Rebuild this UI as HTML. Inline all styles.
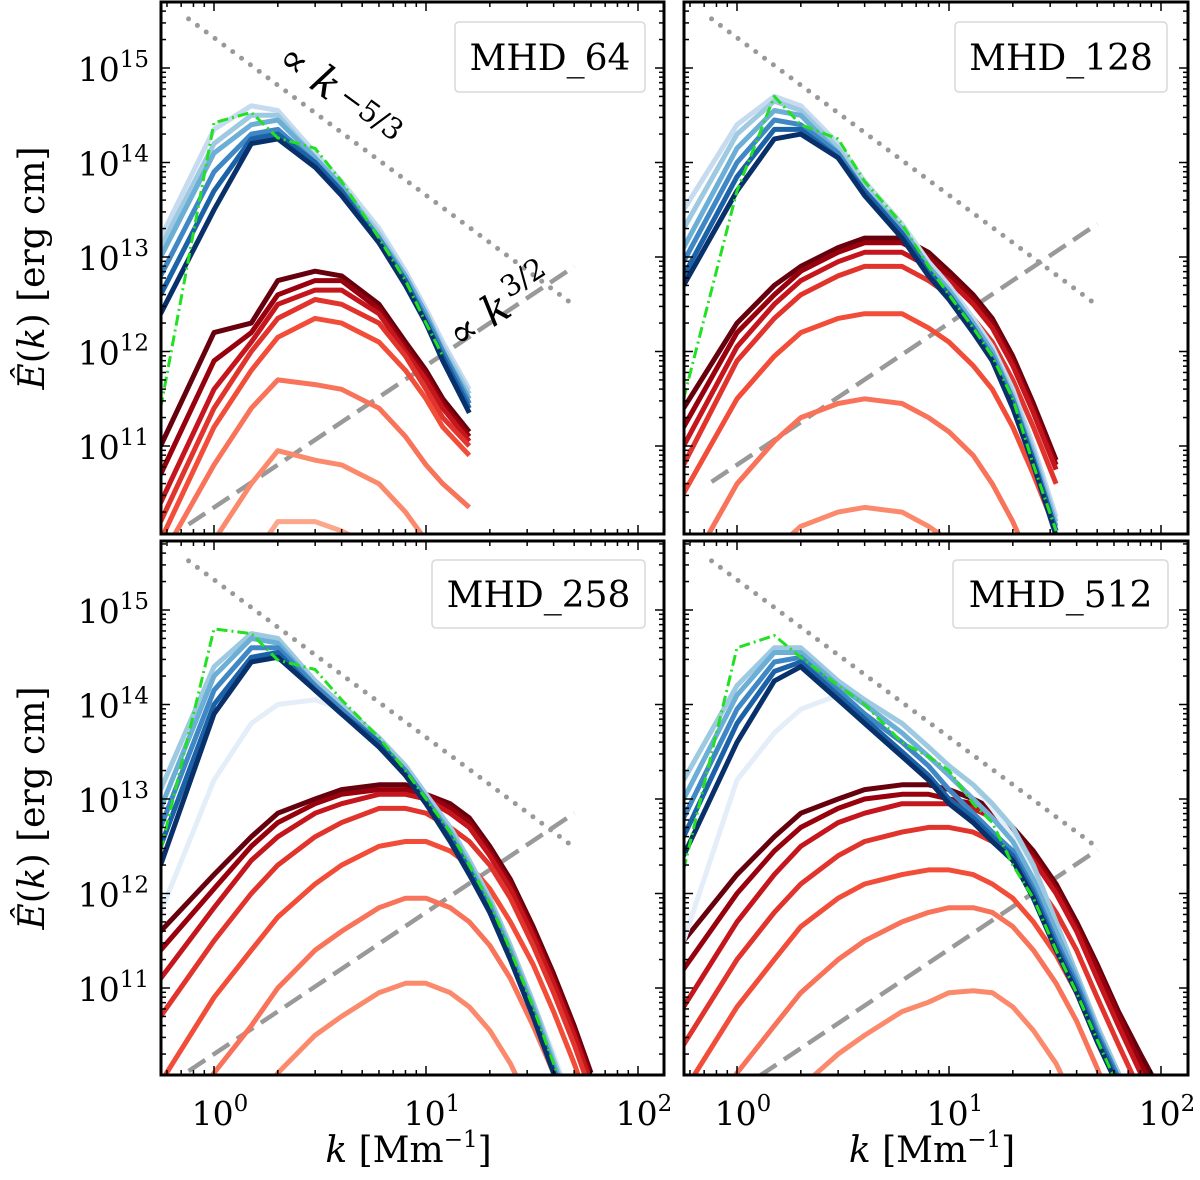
<!DOCTYPE html>
<html><head><meta charset="utf-8">
<style>
html,body{margin:0;padding:0;background:#fff;width:1200px;height:1180px;overflow:hidden;}
svg{display:block;font-family:"DejaVu Serif","Liberation Serif",serif;}
</style></head>
<body>
<svg id="chart" width="1200" height="1180" viewBox="0 0 1200 1180" xmlns="http://www.w3.org/2000/svg"></svg>
<script>
// ---------- DATA ----------
const kTL=[0.56,1,1.5,2,3,4,6,8,10,12,16];
const blueTL=[
[13.2,14.35,14.6,14.55,14.1,13.8,13.3,12.85,12.45,12.1,11.6],
[13.1,14.2,14.5,14.5,14.05,13.75,13.25,12.8,12.4,12.05,11.55],
[13.0,14.1,14.4,14.45,14.05,13.75,13.2,12.8,12.4,12.0,11.5],
[12.8,13.9,14.3,14.35,14.0,13.7,13.2,12.75,12.35,12.0,11.45],
[12.6,13.7,14.25,14.3,14.0,13.7,13.15,12.75,12.3,11.95,11.4],
[12.4,13.5,14.2,14.25,13.95,13.65,13.15,12.7,12.3,11.9,11.35]];
const greenTL=[11.4,14.42,14.53,14.26,14.15,13.8,13.2,12.75,12.3,11.95,null];
const redTL=[
[11.0,12.2,12.3,12.75,12.85,12.8,12.5,12.1,11.8,11.5,11.15],
[10.7,11.9,12.2,12.6,12.75,12.75,12.45,12.05,11.75,11.45,11.1],
[10.4,11.6,12.1,12.5,12.65,12.65,12.4,12.0,11.7,11.4,11.05],
[10.2,11.4,12.0,12.35,12.55,12.5,12.3,11.95,11.6,11.3,11.0],
[10.0,11.2,11.8,12.15,12.35,12.3,12.1,11.8,11.5,11.2,10.9],
[9.8,10.8,11.4,11.7,11.65,11.6,11.4,11.1,10.8,10.6,10.35],
[9.2,10.0,10.6,10.95,10.85,10.8,10.6,10.3,10.0,9.8,9.6],
[8.5,9.3,9.8,10.2,10.2,10.1,9.9,9.6,9.3,9.0,8.7]];

const kTR=[0.56,1,1.5,2,3,4,6,8,10,13,16,20,25,32];
const blueTR=[
[13.5,14.4,14.7,14.6,14.2,13.8,13.35,12.95,12.7,12.35,12.05,11.6,11.0,10.25],
[13.3,14.3,14.65,14.55,14.15,13.75,13.3,12.9,12.65,12.3,12.0,11.55,10.95,10.2],
[13.1,14.15,14.55,14.5,14.1,13.7,13.3,12.9,12.65,12.3,12.0,11.5,10.9,10.15],
[12.95,14.0,14.45,14.4,14.1,13.7,13.25,12.85,12.6,12.25,11.95,11.5,10.85,10.1],
[12.8,13.85,14.35,14.35,14.05,13.7,13.25,12.85,12.6,12.25,11.9,11.45,10.85,10.1],
[12.7,13.7,14.25,14.3,14.05,13.65,13.2,12.8,12.55,12.2,11.9,11.4,10.8,10.05]];
const greenTR=[11.5,13.7,14.7,14.4,14.25,13.8,13.35,12.9,12.6,12.25,11.95,11.5,10.8,10.1];
const redTR=[
[11.4,12.3,12.7,12.9,13.1,13.2,13.2,13.05,12.85,12.6,12.35,11.95,11.45,10.85],
[11.2,12.2,12.6,12.85,13.05,13.15,13.15,13.0,12.8,12.55,12.3,11.9,11.4,10.8],
[11.0,12.05,12.5,12.75,12.95,13.05,13.05,12.9,12.75,12.5,12.25,11.85,11.35,10.75],
[10.8,11.9,12.35,12.6,12.8,12.9,12.9,12.75,12.6,12.35,12.1,11.7,11.2,10.6],
[10.5,11.5,11.95,12.2,12.35,12.4,12.4,12.25,12.1,11.85,11.6,11.2,10.7,10.1],
[9.6,10.6,11.05,11.3,11.45,11.5,11.45,11.3,11.15,10.9,10.6,10.2,9.7,9.1],
[8.5,9.5,9.9,10.15,10.3,10.35,10.3,10.15,10.0,9.7,9.4,9.0,8.5,7.9]];

const kBL=[0.56,1,1.5,2,3,4,6,8,10,13,16,20,25,32,40,50,60];
const blueBL=[
[11.8,13.2,13.8,14.0,14.05,13.95,13.65,13.35,13.05,12.7,12.35,11.95,11.45,10.85,10.3,9.7,9.2],
[13.1,14.4,14.75,14.7,14.25,14.0,13.65,13.35,13.05,12.7,12.35,11.95,11.45,10.85,10.25,9.65,9.15],
[12.9,14.3,14.7,14.65,14.2,13.95,13.6,13.3,13.0,12.65,12.3,11.9,11.4,10.8,10.2,9.6,9.1],
[12.7,14.15,14.6,14.6,14.2,13.95,13.6,13.3,13.0,12.6,12.25,11.85,11.35,10.75,10.15,9.55,9.05],
[12.5,14.0,14.5,14.55,14.15,13.9,13.6,13.25,12.95,12.6,12.25,11.8,11.3,10.7,10.1,9.5,9.0],
[12.3,13.9,14.45,14.5,14.15,13.9,13.55,13.25,12.95,12.55,12.2,11.8,11.3,10.7,10.1,9.5,9.0]];
const greenBL=[12.45,14.8,14.75,14.47,14.37,14.05,13.65,13.3,13.0,12.65,12.3,11.9,11.4,10.8,10.2,9.6,9.1];
const redBL=[
[11.6,12.2,12.6,12.85,13.0,13.1,13.15,13.15,13.05,12.95,12.8,12.5,12.15,11.65,11.15,10.6,10.1],
[11.4,12.05,12.5,12.75,12.95,13.05,13.1,13.1,13.05,12.9,12.75,12.45,12.1,11.6,11.1,10.55,10.05],
[11.1,11.85,12.35,12.6,12.85,12.95,13.05,13.05,13.0,12.85,12.7,12.4,12.05,11.55,11.05,10.5,10.0],
[10.7,11.5,12.0,12.3,12.6,12.75,12.9,12.9,12.85,12.7,12.55,12.3,11.95,11.45,10.95,10.4,9.9],
[10.0,10.9,11.4,11.75,12.1,12.3,12.5,12.55,12.55,12.45,12.3,12.05,11.7,11.25,10.75,10.2,9.7],
[9.3,10.1,10.6,11.0,11.4,11.6,11.85,11.95,11.95,11.85,11.7,11.45,11.1,10.6,10.1,9.5,9.0],
[8.4,9.2,9.7,10.1,10.5,10.7,10.95,11.05,11.05,10.95,10.8,10.55,10.2,9.7,9.1,8.5,8.0]];

const kBR=[0.56,1,1.5,2,3,4,6,8,10,13,16,20,25,32,40,50,63,80,100];
const blueBR=[
[11.5,13.2,13.7,13.95,14.1,14.0,13.8,13.55,13.35,13.15,12.9,12.6,12.2,11.65,11.1,10.55,10.05,9.5,8.95],
[13.2,14.2,14.6,14.6,14.25,14.05,13.8,13.55,13.35,13.15,12.95,12.7,12.3,11.7,11.15,10.6,10.1,9.5,8.95],
[13.0,14.1,14.55,14.55,14.2,14.0,13.7,13.45,13.25,13.0,12.8,12.55,12.15,11.6,11.1,10.55,10.05,9.5,8.95],
[12.8,13.95,14.45,14.5,14.15,13.9,13.6,13.35,13.1,12.85,12.65,12.45,12.05,11.5,11.05,10.52,10.05,9.5,8.95],
[12.6,13.8,14.35,14.45,14.1,13.85,13.5,13.25,13.0,12.8,12.6,12.4,12.0,11.45,11.0,10.48,10.0,9.45,8.9],
[12.4,13.6,14.25,14.4,14.05,13.8,13.45,13.2,12.95,12.75,12.55,12.35,11.95,11.4,10.95,10.43,9.95,9.4,8.9]];
const greenBR=[12.25,14.6,14.73,14.5,14.2,14.0,13.6,13.45,13.3,12.95,12.75,12.3,11.95,11.4,10.95,10.45,9.95,9.4,8.9];
const redBR=[
[11.5,12.2,12.6,12.85,13.0,13.1,13.15,13.15,13.1,13.0,12.9,12.7,12.45,12.1,11.7,11.25,10.75,10.3,9.9],
[11.2,12.0,12.45,12.7,12.9,13.0,13.05,13.05,13.0,12.95,12.85,12.65,12.4,12.05,11.65,11.2,10.7,10.2,9.8],
[10.8,11.7,12.2,12.5,12.75,12.85,12.95,12.95,12.95,12.9,12.8,12.6,12.35,12.0,11.6,11.1,10.6,10.1,9.7],
[10.4,11.3,11.8,12.1,12.4,12.55,12.65,12.7,12.7,12.65,12.55,12.4,12.15,11.8,11.4,10.9,10.4,9.9,9.4],
[9.9,10.8,11.3,11.65,11.95,12.1,12.2,12.25,12.25,12.2,12.1,11.95,11.7,11.35,10.95,10.45,9.95,9.4,8.9],
[9.2,10.1,10.6,10.95,11.3,11.5,11.7,11.8,11.85,11.85,11.8,11.65,11.4,11.05,10.65,10.15,9.6,9.05,8.5],
[8.2,9.1,9.6,9.95,10.3,10.5,10.75,10.85,10.95,10.97,10.95,10.8,10.55,10.2,9.75,9.25,8.7,8.1,7.5]];

const panelNames=["MHD_64","MHD_128","MHD_258","MHD_512"];
const yTickExps=[11,12,13,14,15];
const xTickExps=[0,1,2];
const refSlopeKolm=-5/3, refSlopeB=1.5;
const refAmpKolm=[15.32,15.32,15.32,15.32];
const refAmpB=[10.35,10.80,10.30,9.91];

// ---------- DRAW ----------
const NS="http://www.w3.org/2000/svg";
const svg=document.getElementById('chart');
function mk(tag,attrs,parent){const e=document.createElementNS(NS,tag);for(const a in attrs)e.setAttribute(a,attrs[a]);(parent||svg).appendChild(e);return e;}

const panels=[
 {L:161,R:664,T:2,B:534,x0:214,y15:68,k:kTL,blue:blueTL,green:greenTL,red:redTL,leg:[455,22,190,70],ylab:true,xlab:false},
 {L:684,R:1188,T:2,B:534,x0:737,y15:68,k:kTR,blue:blueTR,green:greenTR,red:redTR,leg:[955,22,212,70],ylab:false,xlab:false},
 {L:161,R:664,T:541,B:1075,x0:214,y15:610,k:kBL,blue:blueBL,green:greenBL,red:redBL,leg:[432,560,213,68],ylab:true,xlab:true},
 {L:684,R:1188,T:541,B:1075,x0:737,y15:610,k:kBR,blue:blueBR,green:greenBR,red:redBR,leg:[953,560,215,68],ylab:false,xlab:true}];
const DX=212, DY=94.5;
const bluesC=["#c6dbef","#9ecae1","#6baed6","#3f88c5","#1c62a8","#08306b"];
const bluesBL0="#e3eef9";
const redsC=["#67000d","#99000d","#c4161c","#e0342c","#f14d38","#f8735a","#fb8a6d","#fca68b"];

panels.forEach((p,pi)=>{
  const sx=lk=>p.x0+lk*DX;
  const sy=le=>p.y15-(le-15)*DY;
  const g=mk('g',{});
  
  
  const cid='clip'+pi;
  const cp=mk('clipPath',{id:cid},g);mk('rect',{x:p.L,y:p.T,width:p.R-p.L,height:p.B-p.T},cp);
  const plot=mk('g',{'clip-path':'url(#'+cid+')'},g);
  function line(vals,color,w,name,dash){
    let d='';let pen=false;
    vals.forEach((v,i)=>{if(v==null){pen=false;return;}d+=(pen?'L':'M')+sx(Math.log10(p.k[i])).toFixed(1)+','+sy(v).toFixed(1);pen=true;});
    const e=mk('path',{d:d,fill:'none',stroke:color,'stroke-width':w,'stroke-linejoin':'round'},plot);
    if(dash)e.setAttribute('stroke-dasharray',dash);
    
    
  }
  const lkA=-0.12,lkB=1.70;
  const kol=mk('line',{x1:sx(lkA),y1:sy(refAmpKolm[pi]+refSlopeKolm*lkA),x2:sx(lkB),y2:sy(refAmpKolm[pi]+refSlopeKolm*lkB),stroke:'#999','stroke-width':5,'stroke-dasharray':'0 11','stroke-linecap':'round'},plot);
  
  
  const bl=mk('line',{x1:sx(lkA),y1:sy(refAmpB[pi]+refSlopeB*lkA),x2:sx(lkB),y2:sy(refAmpB[pi]+refSlopeB*lkB),stroke:'#999','stroke-width':4.5,'stroke-dasharray':'20 9'},plot);
  
  
  p.red.forEach((v,i)=>line(v,redsC[i],5,'magnetic-spectrum-'+(i+1)));
  p.blue.forEach((v,i)=>{
    let c=bluesC[i];
    if(pi>=2 && i===0) c=bluesBL0;
    line(v,c,5,'kinetic-spectrum-'+(i+1));
  });
  line(p.green,'#22e022',3,'reference-spectrum-green','11 4 2 4');
  const fr=mk('rect',{x:p.L,y:p.T,width:p.R-p.L,height:p.B-p.T,fill:'none',stroke:'#000','stroke-width':3},g);
  
  
  const tk=mk('g',{stroke:'#000','stroke-width':1.5},g);
  for(let e=-1;e<=2;e++){for(let m=1;m<=9;m++){const lk=e+Math.log10(m);const x=sx(lk);if(x<p.L||x>p.R)continue;const len=m===1?9:5;
    mk('line',{x1:x,y1:p.B,x2:x,y2:p.B-len},tk);mk('line',{x1:x,y1:p.T,x2:x,y2:p.T+len},tk);}}
  for(let e=9;e<=16;e++){for(let m=1;m<=9;m++){const le=e+Math.log10(m);const y=sy(le);if(y<p.T||y>p.B)continue;const len=m===1?9:5;
    mk('line',{x1:p.L,y1:y,x2:p.L+len,y2:y},tk);mk('line',{x1:p.R,y1:y,x2:p.R-len,y2:y},tk);}}
  if(p.ylab){
    yTickExps.forEach(e=>{const t=mk('text',{x:p.L-12,y:sy(e)+13,'text-anchor':'end','font-size':33},g);
      
      t.innerHTML='10<tspan dy="-14" font-size="23">'+e+'</tspan>';});
    const yl=mk('text',{transform:'translate(44,'+((p.T+p.B)/2)+') rotate(-90)','text-anchor':'middle','font-size':36},g);
    
    yl.innerHTML='<tspan font-style="italic">Ê</tspan>(<tspan font-style="italic">k</tspan>)  [erg cm]';
  }
  if(p.xlab){
    xTickExps.forEach(e=>{const t=mk('text',{x:sx(e)+6,y:p.B+50,'text-anchor':'middle','font-size':33},g);
      
      t.innerHTML='10<tspan dy="-14" font-size="23">'+e+'</tspan>';});
    const xl=mk('text',{x:(p.L+p.R)/2-4,y:1162,'text-anchor':'middle','font-size':36},g);
    
    xl.innerHTML='<tspan font-style="italic">k</tspan>  [Mm<tspan dy="-15" font-size="23">−1</tspan><tspan dy="15">]</tspan>';
  }
  const [lx,ly,lw,lh]=p.leg;
  const lg=mk('g',{},g);
  
  mk('rect',{x:lx,y:ly,width:lw,height:lh,rx:4,fill:'#fff','fill-opacity':0.85,stroke:'#d8d8d8','stroke-width':1.5},lg);
  const lt=mk('text',{x:lx+lw/2,y:ly+lh/2+13,'text-anchor':'middle','font-size':36},lg);
  
  lt.textContent=panelNames[pi];
  if(pi===0){
    const a1=mk('text',{transform:'translate(333,105) rotate(36)','text-anchor':'middle','font-size':40},g);
    
    a1.innerHTML='∝ <tspan font-style="italic" font-size="42">k</tspan><tspan dy="-6" dx="6" font-size="29">−5/3</tspan>';
    const a2=mk('text',{transform:'translate(508,318) rotate(-33)','text-anchor':'middle','font-size':40},g);
    
    a2.innerHTML='∝ <tspan font-style="italic" font-size="42">k</tspan><tspan dy="-16" dx="4" font-size="29">3/2</tspan>';
  }
});
</script>
</body></html>
